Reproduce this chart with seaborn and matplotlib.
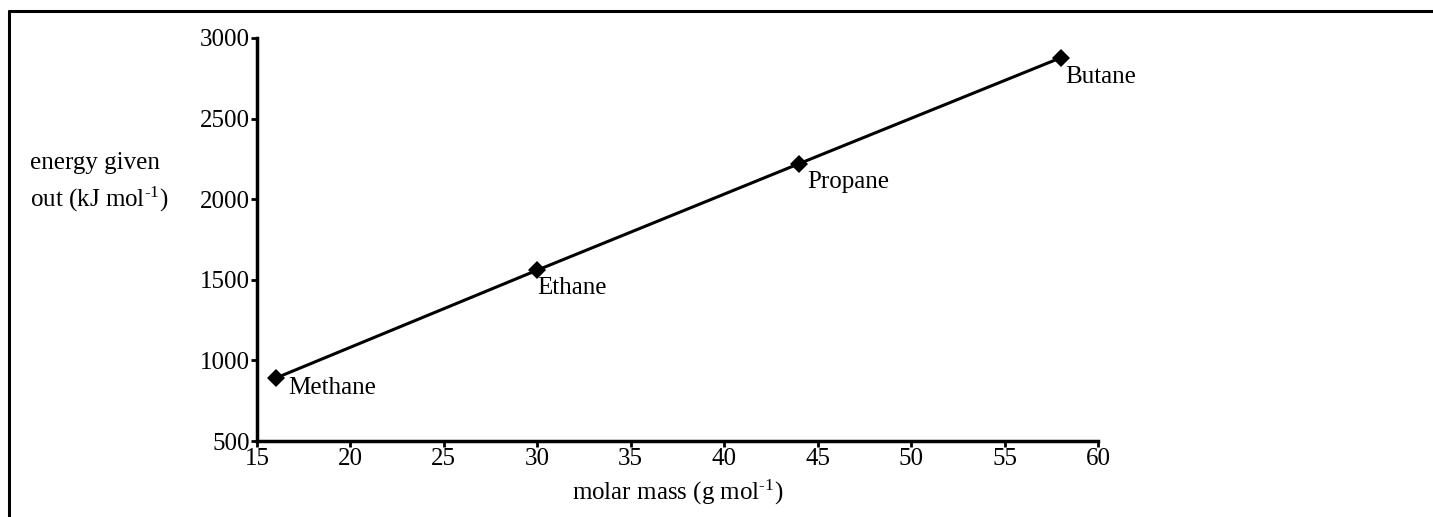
import matplotlib
matplotlib.use("Agg")
import matplotlib.pyplot as plt
import seaborn as sns
import pandas as pd

fuels = ["Methane", "Ethane", "Propane", "Butane"]
molar_mass = [16, 30, 44, 58]
energy = [890, 1560, 2220, 2877]

df = pd.DataFrame({"fuel": fuels, "molar_mass": molar_mass, "energy": energy})

sns.set_style("ticks")
plt.rcParams["font.family"] = ["Liberation Serif", "DejaVu Serif"]
plt.rcParams["mathtext.fontset"] = "custom"
plt.rcParams["mathtext.rm"] = "Liberation Serif"
plt.rcParams["mathtext.default"] = "regular"
plt.rcParams["text.color"] = "black"
plt.rcParams["axes.labelcolor"] = "black"
plt.rcParams["xtick.color"] = "black"
plt.rcParams["ytick.color"] = "black"

fig = plt.figure(figsize=(14.33, 5.17), dpi=100)
ax = fig.add_axes([0.1793, 0.147, 0.5869, 0.7795])

sns.lineplot(data=df, x="molar_mass", y="energy", ax=ax, color="black",
             linewidth=2.2, marker="D", markersize=9.5, markeredgewidth=0)

# label offsets in points (text sits just below-right of each point)
offsets = {"Methane": (9, -7), "Ethane": (0, -13), "Propane": (6, -13), "Butane": (3, -14)}
for _, r in df.iterrows():
    ax.annotate(r["fuel"], (r["molar_mass"], r["energy"]), xytext=offsets[r["fuel"]],
                textcoords="offset points", ha="left", va="center", fontsize=18)

ax.set_xlim(15, 60)
ax.set_ylim(500, 3000)
ax.set_xticks(range(15, 61, 5))
ax.set_yticks(range(500, 3001, 500))
ax.tick_params(axis="both", labelsize=18, width=2, length=4, pad=1, color="black")
sns.despine(ax=ax)
for s in ["left", "bottom"]:
    ax.spines[s].set_linewidth(2.5)
    ax.spines[s].set_color("black")

ax.set_xlabel(r"molar mass (g mol$^{\text{-1}}$)", fontsize=18, labelpad=6)
ax.set_ylabel("energy given\nout (kJ mol$^{\\text{-1}}$)", fontsize=18, rotation=0,
              ha="left", va="center", linespacing=1.5)
ax.yaxis.set_label_coords(-0.270, 0.640)

# outer frame (top and left edges)
fig.add_artist(plt.Line2D([0.0063, 1.0], [0.979, 0.979], color="black", linewidth=2.2,
                          transform=fig.transFigure))
fig.add_artist(plt.Line2D([0.0063, 0.0063], [0.0, 0.979], color="black", linewidth=2.2,
                          transform=fig.transFigure))

fig.savefig("out.png", dpi=100)
